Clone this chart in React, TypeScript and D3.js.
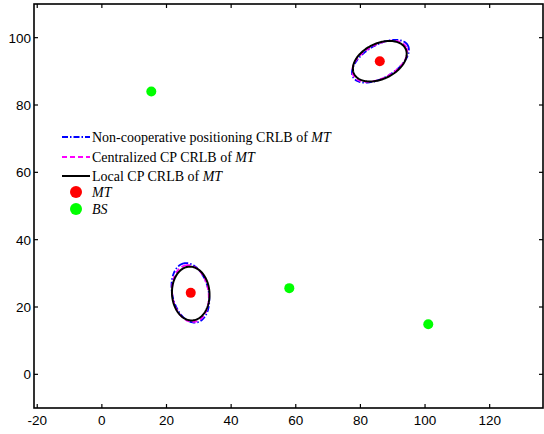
import React, { useEffect, useRef } from 'react';
import * as d3 from 'd3';

const W = 544;
const H = 434;

// positions of mobile terminals and base stations
const mtPoints: [number, number][] = [[86, 93], [27.5, 24.2]];
const bsPoints: [number, number][] = [[15.3, 84], [58, 25.6], [101, 14.9]];

// CRLB ellipses: [cx, cy, semi-major, semi-minor, angle deg]
const nonCoopEllipses: number[][] = [[86.2, 93, 9.7, 4.9, 29], [27.4, 24.2, 9.0, 5.6, 104]];
const centralEllipses: number[][] = [[86, 93, 9.2, 5.0, 27], [27.4, 24.0, 8.5, 5.6, 99]];
const localEllipses: number[][] = [[86, 93, 8.8, 5.3, 24], [27.5, 24.0, 8.0, 5.8, 94]];

const xTicks = [-20, 0, 20, 40, 60, 80, 100, 120];
const yTicks = [0, 20, 40, 60, 80, 100];

const legendItems = [
  { kind: 'line', color: '#0000ff', dash: '6,2,1.5,2', label: 'Non-cooperative positioning CRLB of ' },
  { kind: 'line', color: '#ff00ff', dash: '5,3', label: 'Centralized CP CRLB of ' },
  { kind: 'line', color: '#000000', dash: null, label: 'Local CP CRLB of ' },
  { kind: 'dot', color: '#ff0000', label: '' },
  { kind: 'dot', color: '#00ff00', label: '' },
];

export default function App() {
  const ref = useRef<SVGSVGElement>(null);

  useEffect(() => {
    const svg = d3.select(ref.current);
    svg.selectAll('*').remove();

    const left = 34, right = 543, top = 4, bottom = 408;
    const x = d3.scaleLinear().domain([-21, 136.5]).range([left, right]);
    const y = d3.scaleLinear().domain([-10, 110]).range([bottom, top]);

    const ellipsePts = (e: number[]) => {
      const [cx, cy, a, b, deg] = e;
      const th = (deg * Math.PI) / 180;
      return d3.range(0, 201).map(i => {
        const t = (i / 200) * 2 * Math.PI;
        return [
          cx + a * Math.cos(t) * Math.cos(th) - b * Math.sin(t) * Math.sin(th),
          cy + a * Math.cos(t) * Math.sin(th) + b * Math.sin(t) * Math.cos(th),
        ] as [number, number];
      });
    };
    const line = d3.line<[number, number]>().x(d => x(d[0])).y(d => y(d[1]));

    const g = svg.append('g');

    const drawSet = (set: number[][], color: string, dash: string | null, w: number) => {
      set.forEach(e => {
        g.append('path')
          .attr('d', line(ellipsePts(e)))
          .attr('fill', 'none')
          .attr('stroke', color)
          .attr('stroke-width', w)
          .attr('stroke-dasharray', dash);
      });
    };
    drawSet(nonCoopEllipses, '#0000ff', '6,2,1.5,2', 1.8);
    drawSet(centralEllipses, '#ff00ff', '5,3', 1.8);
    drawSet(localEllipses, '#000000', null, 2);

    g.selectAll('circle.mt').data(mtPoints).join('circle')
      .attr('cx', d => x(d[0])).attr('cy', d => y(d[1])).attr('r', 5)
      .attr('fill', '#ff0000');
    svg.append('g').selectAll('circle').data(bsPoints).join('circle')
      .attr('cx', d => x(d[0])).attr('cy', d => y(d[1])).attr('r', 5)
      .attr('fill', '#00ff00');

    // axes box
    svg.append('rect')
      .attr('x', left).attr('y', top)
      .attr('width', right - left).attr('height', bottom - top)
      .attr('fill', 'none').attr('stroke', '#000').attr('stroke-width', 1.6);

    const tl = 4;
    xTicks.forEach(t => {
      svg.append('line').attr('x1', x(t)).attr('x2', x(t)).attr('y1', bottom).attr('y2', bottom - tl)
        .attr('stroke', '#000').attr('stroke-width', 1.2);
      svg.append('line').attr('x1', x(t)).attr('x2', x(t)).attr('y1', top).attr('y2', top + tl)
        .attr('stroke', '#000').attr('stroke-width', 1.2);
      svg.append('text').attr('x', x(t)).attr('y', bottom + 17)
        .attr('text-anchor', 'middle')
        .style('font-family', 'Liberation Sans, Arial, sans-serif').style('font-size', '13.5px')
        .text(t);
    });
    yTicks.forEach(t => {
      svg.append('line').attr('x1', left).attr('x2', left + tl).attr('y1', y(t)).attr('y2', y(t))
        .attr('stroke', '#000').attr('stroke-width', 1.2);
      svg.append('line').attr('x1', right).attr('x2', right - tl).attr('y1', y(t)).attr('y2', y(t))
        .attr('stroke', '#000').attr('stroke-width', 1.2);
      svg.append('text').attr('x', left - 3).attr('y', y(t) + 5)
        .attr('text-anchor', 'end')
        .style('font-family', 'Liberation Sans, Arial, sans-serif').style('font-size', '13.5px')
        .text(t);
    });

    // legend
    const lg = svg.append('g');
    const rowY = [137, 157, 176, 192, 209];
    legendItems.forEach((it, i) => {
      const yy = rowY[i];
      if (it.kind === 'line') {
        lg.append('line').attr('x1', 62).attr('x2', 90).attr('y1', yy).attr('y2', yy)
          .attr('stroke', it.color).attr('stroke-width', 2)
          .attr('stroke-dasharray', it.dash);
      } else {
        lg.append('circle').attr('cx', 76).attr('cy', yy).attr('r', 6).attr('fill', it.color);
      }
      const txt = lg.append('text').attr('x', 92).attr('y', yy + 4.5)
        .style('font-family', 'Liberation Serif, serif').style('font-size', '14px');
      if (it.label) txt.append('tspan').text(it.label);
      txt.append('tspan').style('font-style', 'italic').text(i === 4 ? 'BS' : 'MT');
    });
  }, []);

  return (
    <svg ref={ref} width={W} height={H}
      style={{ position: 'absolute', left: 0, top: 0, background: '#fff' }} />
  );
}
